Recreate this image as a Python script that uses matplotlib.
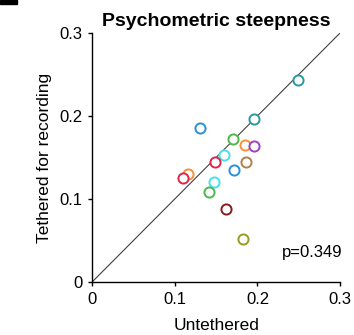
import matplotlib.pyplot as plt
from matplotlib.patches import Rectangle

plt.rcParams['font.family'] = ['Liberation Sans', 'DejaVu Sans']

# data: psychometric steepness, untethered vs tethered
untethered = [0.249, 0.196, 0.131, 0.171, 0.185, 0.196, 0.160, 0.149,
              0.186, 0.172, 0.116, 0.110, 0.148, 0.141, 0.162, 0.183]
tethered = [0.243, 0.196, 0.186, 0.172, 0.165, 0.164, 0.153, 0.145,
            0.145, 0.135, 0.130, 0.125, 0.121, 0.108, 0.088, 0.052]
colors = ['#2a9a9e', '#2a9a9e', '#2e8fd8', '#4cb84c', '#f5923a', '#a040c8',
          '#48e0f0', '#e8204c', '#b08050', '#2e8fd8', '#f5923a', '#e8204c',
          '#48e0f0', '#4cb84c', '#8b1a1a', '#9a9a20']
p_value = 0.349
lim = 0.3

fig = plt.figure(figsize=(3.54, 3.35), dpi=100)
ax = fig.add_axes([0.26, 0.158, 0.701, 0.744])

ax.plot([0, lim], [0, lim], color='#404040', lw=0.8, zorder=1)
for x, y, c in zip(untethered, tethered, colors):
    ax.plot(x, y, 'o', mfc='white', mec=c, mew=1.4, ms=7.3, zorder=2)

ax.text(0.303, 0.03, 'p=%.3f' % p_value, ha='right', va='baseline', fontsize=12)

ax.set_xlim(0, lim)
ax.set_ylim(0, lim)
ax.set_xticks([0, 0.1, 0.2, 0.3])
ax.set_yticks([0, 0.1, 0.2, 0.3])
ax.set_xticklabels(['0', '0.1', '0.2', '0.3'])
ax.set_yticklabels(['0', '0.1', '0.2', '0.3'])
ax.tick_params(direction='out', length=3, width=1, labelsize=12, pad=4)
ax.spines['top'].set_visible(False)
ax.spines['right'].set_visible(False)
ax.spines['left'].set_linewidth(1)
ax.spines['bottom'].set_linewidth(1)

ax.set_xlabel('Untethered', fontsize=12.5, labelpad=8)
ax.set_ylabel('Tethered for recording', fontsize=12.5, labelpad=5)
ax.set_title('Psychometric steepness', fontsize=14, fontweight='bold', pad=5)

# cropped panel mark at top-left
fig.patches.append(Rectangle((0, 1 - 4 / 335), 17 / 354, 4 / 335,
                             transform=fig.transFigure, color='black'))

fig.savefig('out.png', dpi=100)
